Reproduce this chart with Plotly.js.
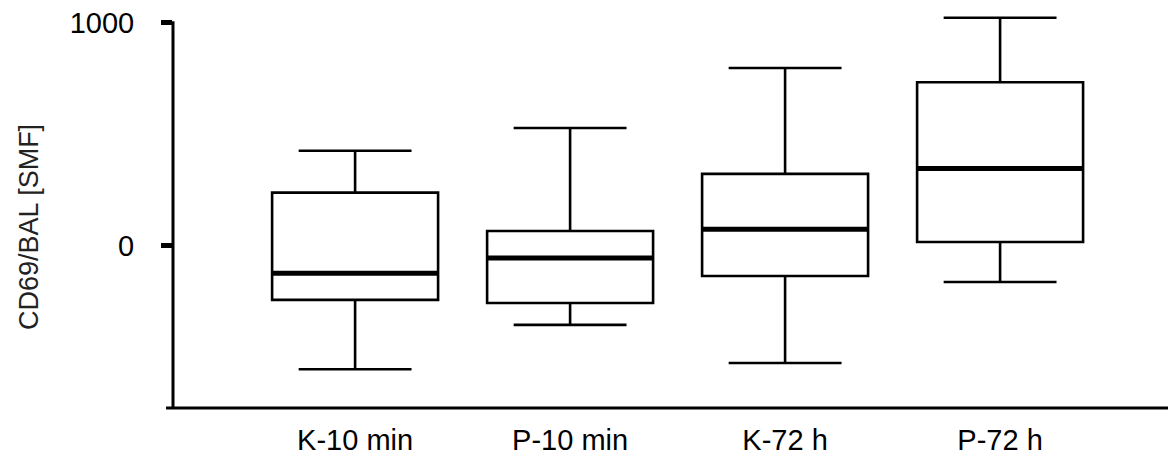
<!DOCTYPE html>
<html>
<head>
<meta charset="utf-8">
<script src="https://cdn.plot.ly/plotly-3.0.1.min.js"></script>
<style>
  html, body { margin: 0; padding: 0; background: #fff; }
  #chart { width: 1171px; height: 456px; }
</style>
</head>
<body>
<div id="chart"></div>
<script>
// Data
const categories = ["K-10 min", "P-10 min", "K-72 h", "P-72 h"];
const upperWhisker = [425, 527, 796, 1021];
const q3Values     = [237, 65, 321, 732];
const medianValues = [-125, -56, 73, 345];
const q1Values     = [-244, -258, -137, 16];
const lowerWhisker = [-555, -356, -527, -164];
const yTickValues  = [0, 1000];
const yTickLabels  = ["0", "1000"];
const yTitle = "CD69/BAL [SMF]";

const positions = categories.map((c, i) => i);
const boxWidth = 0.772;
const halfWidth = boxWidth / 2;
const yRange = [-728.7, 1056];
const yAxisTop = 1005;

const boxTrace = {
  type: "box",
  x: positions,
  q1: q1Values,
  median: medianValues,
  q3: q3Values,
  lowerfence: lowerWhisker,
  upperfence: upperWhisker,
  width: boxWidth,
  fillcolor: "#ffffff",
  line: { color: "#000000", width: 2.6 },
  whiskerwidth: 0.68,
  boxpoints: false,
  hoverinfo: "skip",
  showlegend: false
};

// thicker median bars, derived from the median array
const medianShapes = medianValues.map((m, i) => ({
  type: "line", xref: "x", yref: "y",
  x0: positions[i] - halfWidth, x1: positions[i] + halfWidth,
  y0: m, y1: m,
  line: { color: "#000000", width: 5 }
}));

const layout = {
  width: 1171,
  height: 456,
  margin: { l: 173, r: 3, t: 10, b: 48 },
  paper_bgcolor: "#ffffff",
  plot_bgcolor: "#ffffff",
  font: { family: "Liberation Sans, Arial, sans-serif", color: "#000000" },
  boxgap: 0,
  boxgroupgap: 0,
  showlegend: false,
  xaxis: {
    range: [-0.847, 3.781],
    tickvals: positions,
    ticktext: categories,
    showgrid: false,
    zeroline: false,
    showline: false,
    ticks: "",
    ticklabelstandoff: 12,
    tickfont: { size: 29, color: "#000000" }
  },
  yaxis: {
    range: yRange,
    tickvals: yTickValues,
    ticktext: yTickLabels,
    showgrid: false,
    zeroline: false,
    showline: false,
    ticks: "outside",
    ticklen: 11,
    tickwidth: 5,
    tickcolor: "#000000",
    ticklabelstandoff: 21,
    tickfont: { size: 29, color: "#000000" }
  },
  shapes: [
    {
      type: "line", xref: "paper", yref: "paper",
      x0: -0.007, x1: 1, y0: 0, y1: 0,
      line: { color: "#000000", width: 3 }
    },
    {
      type: "line", xref: "paper", yref: "y",
      x0: 0, x1: 0, y0: yRange[0], y1: yAxisTop,
      line: { color: "#000000", width: 3 }
    }
  ].concat(medianShapes),
  annotations: [
    {
      text: yTitle,
      xref: "paper", yref: "paper",
      x: -0.1447, y: 0.455,
      xanchor: "center", yanchor: "middle",
      textangle: -90,
      showarrow: false,
      font: { size: 27, color: "#222222", family: "Liberation Sans, Arial, sans-serif" }
    }
  ]
};

Plotly.newPlot("chart", [boxTrace], layout, { displayModeBar: false, staticPlot: true });
</script>
</body>
</html>
